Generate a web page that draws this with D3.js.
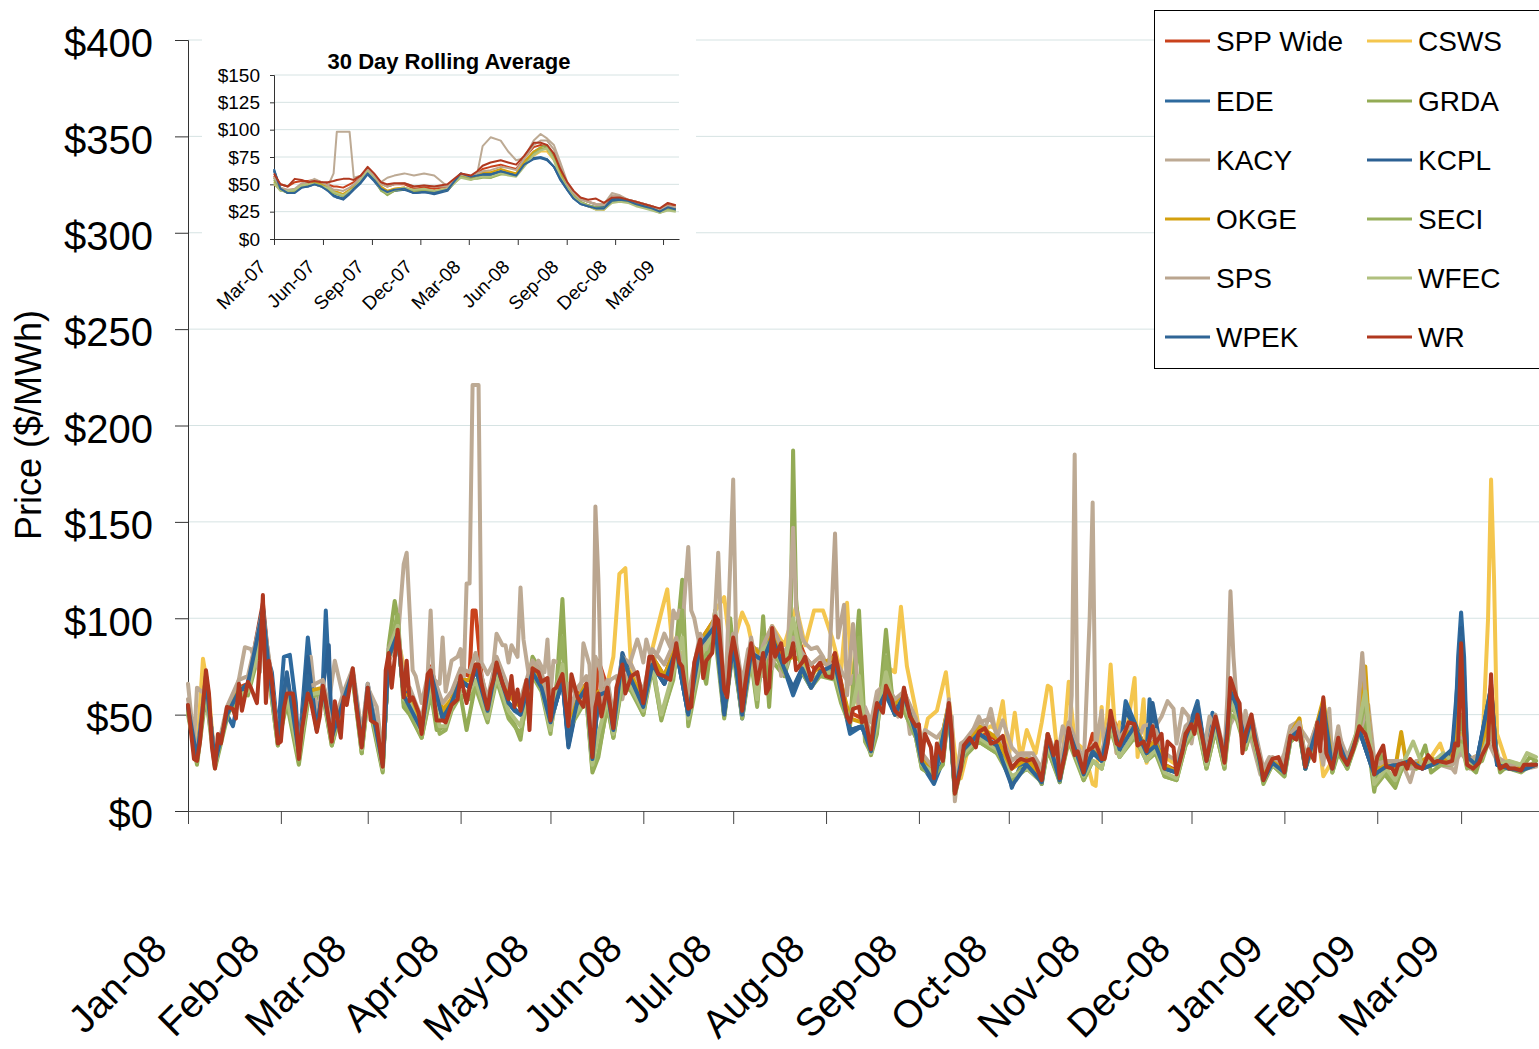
<!DOCTYPE html>
<html>
<head>
<meta charset="utf-8">
<script src="https://cdn.jsdelivr.net/npm/d3@7"></script>
<style>
  body { margin: 0; background: #fff; }
  svg { display: block; font-family: Arial, "Liberation Sans", sans-serif; }
</style>
</head>
<body>
<svg id="chart" width="1539" height="1049"></svg>
<script>
const START = new Date(2008, 0, 1);
const END_DAY = 451;
const INSET_START = new Date(2007, 2, 1);
const INSET_END_DAY = 761;

const SERIES_NAMES = ["SPP Wide", "CSWS", "EDE", "GRDA", "KACY", "KCPL", "OKGE", "SECI", "SPS", "WFEC", "WPEK", "WR"];
const COLORS = ["#C9421C", "#F4C64E", "#2E6A9E", "#93AB55", "#BDAA94", "#2C6193", "#D4A00E", "#98B05C", "#BAA58F", "#B0C07E", "#2F6596", "#B0381F"];

const Y_TICKS = [0, 50, 100, 150, 200, 250, 300, 350, 400];
const MONTH_LABELS = ["Jan-08", "Feb-08", "Mar-08", "Apr-08", "May-08", "Jun-08", "Jul-08", "Aug-08",
  "Sep-08", "Oct-08", "Nov-08", "Dec-08", "Jan-09", "Feb-09", "Mar-09"];
const INSET_Y_TICKS = [0, 25, 50, 75, 100, 125, 150];
const INSET_LABELS = ["Mar-07", "Jun-07", "Sep-07", "Dec-07", "Mar-08", "Jun-08", "Sep-08", "Dec-08", "Mar-09"];

// daily prices: [days since 1 Jan 2008, $/MWh]
const SPP_WIDE = [[0,54],[3,28],[6,70],[9,24],[13,52],[17,64],[20,66],[25,108],[27,76],[30,36],[33,62],[37,30],[40,60],[45,63],[48,38],[52,58],[55,72],[58,36],[60,63],[65,25],[67,80],[70,92],[72,62],[74,62],[78,44],[81,75],[84,58],[86,52],[88,58],[91,72],[94,70],[95,104],[96,104],[98,70],[100,56],[103,76],[107,62],[111,56],[115,73],[118,68],[121,50],[125,70],[127,46],[130,60],[133,66],[135,32],[137,78],[140,64],[142,46],[145,76],[148,70],[152,58],[155,80],[159,70],[163,86],[167,56],[171,88],[176,100],[179,64],[182,88],[185,55],[188,86],[192,80],[195,94],[199,78],[202,96],[206,80],[209,74],[213,72],[216,82],[220,52],[225,48],[228,35],[230,55],[233,64],[236,54],[239,62],[243,46],[245,28],[249,20],[254,55],[256,10],[259,34],[264,42],[270,37],[275,23],[280,27],[285,18],[287,40],[291,20],[294,44],[299,22],[302,40],[305,28],[308,50],[312,38],[316,44],[320,32],[323,37],[326,24],[330,21],[333,40],[337,50],[340,28],[343,48],[346,27],[348,66],[350,57],[353,40],[355,49],[359,18],[362,27],[366,22],[368,38],[371,42],[373,25],[377,45],[379,56],[382,24],[384,37],[387,25],[391,43],[396,21],[400,24],[404,24],[408,26],[412,23],[417,26],[422,27],[425,84],[427,26],[432,29],[435,66],[437,25],[441,23],[445,22],[450,24]];
const CSWS = [[0,52],[3,30],[5,79],[7,60],[9,24],[13,50],[17,62],[20,64],[25,100],[27,74],[30,38],[33,66],[37,32],[40,62],[45,62],[48,40],[52,56],[55,70],[58,38],[60,62],[65,26],[67,78],[70,90],[74,60],[78,44],[81,70],[85,55],[88,62],[91,66],[94,68],[96,74],[98,64],[100,54],[103,74],[107,60],[111,54],[115,76],[118,66],[121,50],[125,68],[127,48],[130,58],[133,64],[135,34],[137,58],[140,66],[142,80],[144,123],[146,126],[148,72],[152,60],[155,84],[158,103],[160,115],[162,80],[165,82],[167,58],[171,90],[174,84],[176,104],[179,111],[181,84],[183,92],[185,103],[187,96],[190,74],[192,86],[195,96],[199,86],[203,106],[206,86],[209,104],[212,104],[215,90],[218,72],[220,108],[222,60],[225,52],[228,40],[231,62],[233,75],[236,72],[238,106],[240,75],[243,52],[245,34],[247,48],[250,52],[253,72],[256,30],[258,17],[261,36],[264,40],[268,44],[270,42],[272,57],[274,28],[276,51],[278,27],[280,42],[283,30],[285,46],[287,65],[288,64],[290,33],[292,28],[294,67],[296,36],[299,32],[302,14],[303,13],[305,54],[306,30],[308,76],[310,30],[311,46],[313,37],[316,69],[317,28],[319,58],[320,25],[323,38],[326,28],[330,24],[333,40],[337,52],[340,28],[343,48],[346,28],[348,66],[350,56],[353,36],[355,48],[359,18],[362,26],[366,24],[368,40],[371,48],[373,24],[377,44],[379,18],[382,26],[384,34],[387,26],[391,42],[393,38],[396,22],[400,24],[404,25],[408,26],[412,24],[415,28],[418,35],[420,26],[423,30],[425,40],[428,25],[432,30],[434,100],[435,172],[436,120],[437,40],[440,26],[445,24],[450,24]];
const EDE = [[0,54],[3,28],[6,68],[9,26],[13,50],[15,44],[17,60],[20,66],[25,104],[26,83],[28,72],[30,40],[32,80],[34,81],[36,56],[37,30],[40,90],[41,76],[43,44],[45,66],[46,104],[48,40],[52,58],[55,72],[58,35],[60,66],[65,24],[67,80],[70,92],[72,60],[74,62],[78,42],[81,72],[85,50],[88,56],[91,68],[94,64],[96,74],[100,52],[103,76],[107,56],[109,52],[111,50],[115,72],[118,64],[121,46],[125,68],[127,33],[130,56],[133,64],[135,27],[137,58],[140,62],[142,42],[145,80],[148,68],[152,54],[155,76],[159,66],[163,84],[167,50],[171,86],[173,74],[176,96],[179,49],[182,86],[185,48],[188,82],[190,62],[192,78],[195,90],[199,74],[202,60],[205,72],[208,64],[211,72],[216,74],[218,62],[221,40],[225,44],[228,30],[230,52],[233,60],[236,50],[239,60],[243,40],[245,24],[249,14],[252,26],[254,52],[256,12],[259,32],[264,40],[268,36],[270,34],[273,28],[275,12],[278,24],[282,25],[285,14],[287,38],[291,15],[294,42],[297,28],[299,18],[302,30],[305,26],[308,48],[311,30],[313,57],[316,46],[320,30],[321,58],[323,34],[326,22],[330,20],[333,38],[337,57],[340,26],[342,51],[346,26],[348,60],[350,54],[353,36],[355,48],[359,16],[362,25],[366,20],[368,38],[371,42],[373,22],[377,44],[379,54],[382,22],[384,36],[387,24],[391,42],[396,19],[400,23],[404,24],[408,26],[412,22],[417,25],[421,26],[423,42],[424,80],[425,103],[426,80],[427,30],[430,24],[435,62],[437,24],[441,22],[445,21],[450,24]];
const GRDA = [[0,52],[3,24],[6,60],[9,22],[13,48],[15,58],[17,62],[20,60],[25,90],[27,70],[30,34],[33,56],[37,24],[40,56],[45,60],[48,34],[52,60],[55,68],[58,30],[60,58],[65,20],[67,86],[69,109],[70,100],[72,54],[74,50],[78,38],[81,62],[83,42],[86,44],[88,54],[91,60],[93,42],[96,66],[98,58],[100,48],[103,70],[107,50],[109,45],[111,37],[113,60],[115,80],[118,72],[121,42],[123,64],[125,110],[127,46],[130,52],[133,58],[135,20],[137,28],[140,56],[142,38],[145,68],[148,64],[152,50],[155,78],[158,47],[162,70],[165,120],[167,46],[171,78],[173,66],[176,104],[179,50],[181,100],[183,70],[185,50],[188,80],[190,56],[192,101],[194,54],[195,78],[199,70],[201,80],[202,187],[203,110],[205,74],[208,66],[211,72],[216,70],[218,58],[221,46],[224,104],[226,40],[228,29],[230,40],[233,94],[235,60],[239,52],[243,38],[245,22],[249,18],[252,24],[254,54],[256,8],[259,28],[264,36],[268,32],[270,30],[273,26],[275,16],[278,22],[282,22],[285,14],[287,32],[291,15],[294,38],[297,26],[299,16],[302,26],[305,22],[308,44],[311,28],[316,40],[320,26],[323,32],[326,18],[330,16],[333,34],[337,46],[340,22],[343,42],[346,22],[348,55],[350,50],[353,32],[355,44],[359,14],[362,24],[366,18],[368,36],[371,40],[373,22],[377,40],[379,52],[382,20],[384,30],[387,22],[391,40],[393,46],[396,10],[398,30],[400,18],[403,12],[406,26],[410,22],[413,34],[415,20],[420,26],[423,28],[425,50],[427,24],[430,20],[435,46],[438,20],[441,24],[445,22],[448,28],[450,26]];
const KACY = [[0,66],[2,35],[3,64],[6,60],[9,25],[13,52],[16,60],[19,85],[21,84],[24,72],[25,100],[27,80],[30,38],[33,62],[37,32],[39,62],[41,80],[43,50],[45,66],[47,56],[49,78],[52,58],[55,72],[58,40],[60,64],[63,54],[65,30],[67,78],[70,88],[72,128],[73,134],[75,73],[76,70],[78,56],[80,70],[81,104],[82,68],[84,66],[85,90],[86,62],[88,78],[90,80],[91,84],[92,66],[93,118],[94,118],[95,221],[97,221],[98,77],[100,71],[102,77],[103,92],[105,86],[106,86],[107,77],[108,86],[110,80],[111,116],[112,89],[114,68],[115,72],[117,78],[119,72],[120,89],[121,60],[122,78],[125,76],[126,60],[127,66],[129,62],[131,57],[132,87],[134,76],[135,48],[136,80],[138,72],[139,62],[141,68],[143,70],[145,58],[147,74],[150,89],[151,84],[152,77],[153,89],[155,77],[157,83],[159,92],[161,85],[162,104],[163,100],[164,104],[165,94],[167,137],[168,104],[169,100],[170,92],[172,77],[173,88],[174,84],[176,104],[177,134],[179,50],[180,84],[182,172],[183,87],[185,66],[187,84],[189,74],[190,84],[192,70],[193,87],[195,74],[197,87],[198,70],[200,76],[202,147],[203,105],[205,90],[206,87],[208,84],[210,85],[212,80],[213,76],[215,76],[217,76],[219,70],[221,66],[222,70],[224,54],[226,54],[228,46],[230,62],[233,66],[235,56],[237,49],[239,64],[241,40],[243,47],[245,36],[246,42],[248,40],[250,38],[253,44],[255,49],[256,5],[258,35],[261,38],[264,49],[266,42],[268,53],[270,38],[272,47],[275,33],[278,28],[281,28],[285,19],[287,33],[290,26],[292,44],[294,34],[295,60],[296,185],[297,30],[299,23],[301,100],[302,160],[303,33],[305,52],[306,28],[308,49],[310,30],[312,44],[314,42],[317,36],[319,44],[321,45],[323,44],[325,49],[327,57],[329,53],[330,35],[332,53],[334,49],[335,35],[337,55],[339,30],[341,49],[344,37],[346,28],[348,45],[349,48],[351,56],[352,35],[353,52],[355,37],[358,19],[361,28],[364,22],[366,30],[368,44],[370,46],[373,39],[375,34],[377,38],[379,24],[381,53],[382,26],[384,44],[386,27],[389,33],[391,40],[394,55],[396,27],[399,23],[402,24],[405,26],[408,15],[410,26],[414,26],[418,24],[422,22],[423,20],[425,38],[428,22],[431,26],[434,36],[437,26],[440,24],[444,21],[450,23]];
const KCPL = [[0,55],[3,27],[6,70],[9,24],[13,52],[17,62],[20,66],[25,106],[27,74],[30,38],[33,70],[37,30],[40,80],[43,42],[45,64],[47,86],[48,38],[52,58],[55,72],[58,34],[60,64],[65,24],[67,80],[70,92],[72,60],[78,42],[81,72],[85,48],[88,56],[91,68],[94,64],[96,74],[100,52],[103,76],[107,56],[111,50],[115,72],[118,64],[121,46],[125,68],[127,34],[130,57],[133,64],[135,27],[137,60],[140,62],[142,42],[145,82],[148,68],[152,54],[155,76],[159,66],[163,84],[167,50],[171,86],[176,96],[179,50],[182,86],[185,49],[188,82],[192,78],[195,90],[199,74],[202,64],[205,74],[208,64],[211,72],[216,76],[218,62],[221,42],[225,44],[228,31],[230,52],[233,62],[236,50],[239,60],[243,40],[245,25],[249,16],[254,54],[256,10],[259,32],[264,40],[270,34],[275,14],[280,24],[285,15],[287,38],[291,16],[294,42],[299,19],[302,31],[305,26],[308,48],[311,32],[313,52],[316,44],[320,30],[322,56],[326,22],[330,20],[333,38],[337,55],[340,26],[343,48],[346,26],[348,62],[350,55],[353,36],[355,48],[359,16],[362,25],[366,20],[368,38],[371,42],[373,22],[377,44],[379,55],[382,22],[384,36],[387,24],[391,42],[396,19],[400,23],[404,24],[408,26],[412,22],[417,25],[422,30],[424,60],[425,95],[426,70],[427,28],[430,24],[435,64],[437,24],[441,22],[445,21],[450,24]];
const OKGE = [[0,54],[3,28],[6,70],[9,24],[13,50],[17,64],[20,64],[25,104],[27,74],[30,36],[33,64],[37,30],[40,62],[45,64],[48,36],[52,58],[55,70],[58,32],[60,62],[65,24],[67,80],[70,92],[72,60],[74,60],[78,42],[81,72],[85,52],[88,58],[91,68],[94,68],[96,76],[100,54],[103,76],[107,60],[111,54],[115,74],[118,66],[121,48],[125,70],[127,44],[130,58],[133,66],[135,30],[137,62],[140,64],[142,44],[145,78],[148,70],[152,58],[155,80],[159,70],[163,86],[167,54],[171,88],[176,100],[179,60],[182,88],[185,52],[188,86],[192,80],[195,92],[199,78],[202,80],[205,78],[208,70],[211,76],[216,80],[218,66],[221,48],[225,46],[228,34],[230,54],[233,64],[236,56],[239,62],[243,44],[245,28],[249,18],[254,56],[256,10],[259,34],[264,44],[270,38],[275,22],[280,27],[285,18],[287,40],[291,18],[294,44],[299,22],[302,34],[305,28],[308,50],[311,36],[316,44],[320,32],[323,36],[326,24],[330,20],[333,40],[337,50],[340,28],[343,48],[346,26],[348,64],[350,56],[353,38],[355,48],[359,18],[362,26],[366,22],[368,40],[371,48],[373,26],[377,46],[379,58],[382,24],[384,38],[387,26],[391,44],[393,75],[394,50],[396,20],[400,24],[403,22],[405,41],[407,22],[410,24],[414,28],[417,26],[422,28],[425,70],[427,26],[432,30],[435,60],[437,26],[441,24],[445,22],[450,24]];
const SECI = [[0,50],[3,25],[6,64],[9,23],[13,50],[17,58],[20,62],[25,96],[27,70],[30,34],[33,58],[37,26],[40,58],[45,62],[48,34],[52,56],[55,70],[58,30],[60,60],[65,21],[67,84],[70,102],[72,56],[74,52],[78,38],[81,60],[84,40],[86,42],[88,52],[91,60],[94,58],[96,64],[100,46],[103,68],[107,48],[111,40],[115,70],[118,62],[121,40],[125,90],[127,42],[130,50],[133,58],[135,22],[137,30],[140,54],[142,38],[145,66],[148,62],[152,50],[155,74],[158,48],[162,68],[165,104],[167,44],[171,76],[176,90],[179,48],[182,84],[185,48],[188,78],[190,54],[192,90],[195,84],[199,72],[202,96],[205,72],[208,64],[211,70],[216,68],[218,56],[221,44],[224,90],[226,36],[228,30],[230,42],[233,80],[236,50],[239,52],[243,38],[245,22],[249,18],[254,52],[256,9],[259,28],[264,36],[270,30],[275,16],[280,22],[285,15],[287,32],[291,16],[294,36],[299,16],[302,26],[305,22],[308,42],[311,28],[316,38],[320,26],[323,30],[326,18],[330,16],[333,34],[337,44],[340,22],[343,42],[346,22],[348,50],[350,48],[353,32],[355,42],[359,15],[362,24],[366,18],[368,36],[371,40],[373,22],[377,40],[379,48],[382,20],[384,32],[387,22],[391,42],[393,58],[396,12],[400,20],[403,14],[406,24],[410,22],[414,24],[417,24],[422,24],[425,36],[427,22],[432,26],[435,40],[438,22],[441,22],[445,20],[450,26]];
const SPS = [[0,58],[3,30],[6,70],[9,26],[13,54],[17,68],[20,70],[25,104],[27,78],[30,40],[33,64],[37,34],[40,64],[45,68],[48,42],[52,62],[55,74],[58,40],[60,66],[65,26],[67,84],[70,96],[72,66],[74,64],[78,48],[81,74],[85,56],[88,62],[91,74],[94,72],[96,82],[98,70],[100,58],[103,80],[107,64],[111,58],[115,78],[118,72],[121,54],[125,74],[127,50],[130,64],[133,70],[135,40],[136,158],[137,120],[138,56],[140,68],[142,50],[145,80],[148,76],[152,62],[155,84],[159,76],[163,90],[167,60],[171,92],[173,84],[176,102],[179,66],[182,92],[185,60],[188,90],[190,72],[192,86],[195,96],[199,82],[202,90],[205,82],[208,76],[211,80],[214,74],[216,144],[217,90],[219,107],[220,60],[222,97],[224,56],[226,50],[228,38],[230,58],[233,66],[236,58],[239,62],[243,48],[245,30],[249,22],[252,30],[254,58],[256,12],[259,36],[264,46],[268,48],[270,40],[273,34],[275,26],[278,30],[282,30],[285,22],[287,40],[291,24],[294,46],[297,34],[299,26],[302,34],[305,30],[308,50],[311,38],[314,44],[317,36],[320,34],[323,42],[326,30],[330,26],[333,44],[337,50],[340,30],[343,50],[346,30],[347,60],[348,114],[349,80],[350,58],[353,42],[355,50],[359,22],[362,28],[366,24],[368,40],[371,46],[373,28],[377,46],[379,40],[382,26],[384,40],[387,28],[390,40],[392,82],[393,60],[394,48],[396,24],[400,26],[404,26],[408,22],[412,24],[417,26],[422,24],[425,30],[427,26],[432,30],[435,40],[437,28],[441,24],[445,24],[450,24]];
const WFEC = [[0,52],[3,26],[6,66],[9,24],[13,52],[15,56],[17,60],[20,62],[25,94],[27,72],[30,36],[33,60],[37,28],[40,60],[45,62],[48,36],[52,58],[55,72],[58,32],[60,62],[65,22],[67,82],[70,96],[72,58],[74,56],[78,40],[81,66],[84,44],[86,44],[88,54],[91,62],[94,62],[96,68],[100,48],[103,70],[107,52],[111,44],[115,72],[118,64],[121,42],[125,76],[127,44],[130,52],[133,60],[135,24],[137,40],[140,58],[142,40],[145,70],[148,64],[152,52],[155,76],[158,50],[162,72],[165,90],[167,48],[171,80],[176,94],[179,52],[182,86],[185,50],[188,80],[190,58],[192,84],[195,88],[199,74],[202,100],[205,76],[208,66],[211,72],[216,72],[218,60],[221,46],[224,70],[226,42],[228,30],[230,46],[233,72],[236,52],[239,56],[243,40],[245,24],[249,20],[254,54],[256,10],[259,30],[264,38],[270,32],[275,18],[280,22],[285,16],[287,34],[291,18],[294,38],[299,18],[302,26],[305,22],[308,44],[311,28],[316,40],[320,26],[323,32],[326,20],[330,17],[333,36],[337,46],[340,24],[343,44],[346,24],[348,58],[350,50],[353,34],[355,44],[359,16],[362,24],[366,20],[368,38],[371,42],[373,24],[377,42],[379,50],[382,22],[384,34],[387,24],[391,46],[393,62],[396,14],[400,22],[403,16],[406,26],[409,36],[412,24],[416,26],[419,30],[422,26],[425,34],[427,24],[432,28],[435,44],[438,24],[441,26],[445,24],[447,30],[450,28]];
const WPEK = [[0,54],[3,27],[6,68],[9,25],[13,50],[17,62],[20,66],[25,104],[27,74],[30,38],[33,72],[37,30],[40,70],[43,42],[45,64],[48,38],[52,58],[55,72],[58,34],[60,64],[65,24],[67,80],[70,92],[72,60],[78,42],[81,72],[85,48],[88,56],[91,68],[94,64],[96,74],[100,52],[103,76],[107,56],[111,50],[115,72],[118,64],[121,46],[125,68],[127,36],[130,57],[133,64],[135,27],[137,60],[140,62],[142,42],[145,80],[148,68],[152,54],[155,76],[159,66],[163,84],[167,50],[171,86],[176,96],[179,50],[182,86],[185,50],[188,82],[192,78],[195,90],[199,74],[202,62],[205,74],[208,64],[211,72],[216,76],[218,62],[221,42],[225,44],[228,31],[230,52],[233,62],[236,50],[239,60],[243,40],[245,25],[249,15],[254,54],[256,10],[259,32],[264,40],[270,34],[275,13],[280,24],[285,15],[287,38],[291,16],[294,42],[299,19],[302,31],[305,26],[308,48],[311,32],[316,44],[320,30],[323,34],[326,22],[330,20],[333,38],[337,54],[340,26],[343,48],[346,26],[348,62],[350,55],[353,36],[355,48],[359,16],[362,25],[366,20],[368,38],[371,42],[373,22],[377,44],[379,55],[382,22],[384,36],[387,24],[391,42],[396,19],[400,23],[404,24],[408,26],[412,22],[417,25],[422,32],[425,90],[426,66],[427,28],[430,24],[435,64],[437,24],[441,22],[445,21],[450,24]];
const WR = [[0,55],[2,27],[3,26],[4,36],[6,73],[7,61],[8,33],[9,22],[10,40],[11,35],[13,54],[15,53],[16,48],[17,66],[18,52],[20,67],[21,64],[23,56],[24,78],[25,112],[26,56],[27,78],[28,68],[30,35],[31,36],[32,53],[33,61],[35,61],[36,49],[37,27],[38,42],[40,61],[41,57],[43,41],[44,49],[45,65],[46,57],[48,36],[49,57],[51,38],[52,59],[53,55],[55,74],[56,57],[58,33],[60,64],[61,47],[63,45],[65,23],[66,73],[67,82],[68,64],[70,94],[71,78],[72,59],[73,78],[74,57],[75,59],[77,51],[78,40],[80,71],[81,73],[83,47],[85,47],[86,46],[88,55],[90,58],[91,70],[93,56],[94,64],[96,76],[97,76],[98,66],[100,53],[101,63],[102,68],[103,77],[105,66],[107,58],[108,70],[109,54],[110,63],[111,52],[113,68],[114,42],[115,74],[117,72],[118,67],[120,69],[121,47],[122,63],[123,64],[125,71],[127,44],[128,71],[130,59],[132,54],[133,66],[135,28],[136,54],[137,61],[138,49],[140,64],[142,43],[143,64],[145,76],[146,61],[148,70],[150,72],[152,56],[154,80],[155,80],[156,75],[157,71],[159,70],[161,68],[163,87],[164,77],[165,75],[167,53],[168,54],[169,77],[171,89],[172,69],[173,78],[175,82],[176,101],[177,99],[178,82],[179,63],[180,59],[181,80],[182,90],[184,73],[185,52],[186,66],[188,87],[189,78],[190,66],[192,82],[193,61],[194,64],[195,95],[196,80],[198,87],[199,77],[201,80],[202,87],[203,73],[205,77],[206,80],[208,68],[209,73],[211,77],[213,70],[215,69],[216,82],[218,66],[220,49],[221,46],[222,53],[224,54],[225,46],[226,49],[228,32],[229,47],[230,56],[232,51],[233,65],[235,58],[236,52],[238,49],[239,64],[241,49],[243,44],[244,45],[245,26],[246,40],[248,33],[249,17],[250,35],[252,26],[253,42],[254,56],[255,40],[256,9],[258,22],[259,34],[261,38],[263,33],[264,41],[266,43],[267,40],[268,35],[270,36],[272,39],[273,31],[275,22],[277,26],[278,27],[280,26],[282,27],[283,24],[285,16],[286,27],[287,40],[289,29],[290,36],[291,17],[293,31],[294,43],[296,29],[297,31],[299,20],[300,31],[302,33],[303,35],[305,27],[306,27],[307,35],[308,52],[310,35],[311,34],[312,38],[314,46],[316,45],[317,34],[319,36],[320,31],[322,44],[323,35],[325,40],[326,22],[327,36],[329,33],[330,19],[332,31],[333,40],[335,45],[336,40],[337,50],[339,35],[340,26],[342,42],[343,49],[345,35],[346,25],[347,40],[348,69],[350,59],[351,56],[352,30],[353,40],[355,50],[356,38],[358,26],[359,16],[361,24],[362,27],[364,28],[366,20],[368,39],[370,37],[371,43],[373,23],[374,32],[376,26],[377,46],[378,31],[379,59],[380,30],[382,22],[384,38],[385,29],[387,24],[389,32],[391,44],[393,40],[395,30],[396,19],[397,28],[399,34],[400,23],[402,22],[403,19],[404,24],[406,25],[407,22],[408,27],[410,23],[412,22],[414,29],[416,25],[417,26],[420,25],[422,26],[423,35],[424,34],[425,87],[426,40],[427,24],[429,22],[431,25],[432,29],[434,35],[435,71],[436,34],[438,22],[440,24],[441,22],[443,22],[445,21],[446,24],[448,24],[450,24]];

// 30 day rolling averages, sampled at INSET_DAYS (days since 1 Mar 2007)
const INSET_DAYS = [0,12,26,39,52,64,76,89,101,112,118,130,142,150,163,176,188,201,213,226,245,263,282,301,326,351,370,382,392,407,426,440,455,470,488,501,513,526,538,551,563,576,590,605,620,635,650,665,680,695,710,725,740,755];
const AVG_SPP_WIDE = [58,50,48,52,53,53,54,52,50,48,48,47,50,52,56,64,58,51,48,50,50,46,47,46,48,58,57,60,64,66,68,66,64,74,84,86,84,76,62,50,42,37,34,32,31,37,38,36,34,32,30,27,31,30];
const AVG_CSWS = [50,45,43,44,48,49,51,49,46,43,43,41,45,48,54,62,56,47,44,46,47,43,44,43,45,57,55,57,59,59,62,61,59,69,76,80,80,72,58,47,39,33,30,28,27,34,36,34,32,30,28,25,28,27];
const AVG_EDE = [64,46,42,43,48,49,51,49,45,40,39,37,42,46,52,60,54,46,43,45,46,42,43,42,45,60,56,57,58,58,61,60,58,68,74,75,73,66,55,46,38,33,31,29,29,36,37,35,32,30,28,25,29,27];
const AVG_GRDA = [56,46,43,44,48,49,51,50,46,42,41,39,44,48,56,64,57,45,40,44,46,44,45,43,45,58,55,56,57,56,60,60,59,68,80,84,86,74,60,48,40,34,31,29,29,35,36,34,32,30,28,25,28,27];
const AVG_KACY = [56,46,44,45,50,52,55,52,48,60,98,98,98,56,58,64,58,52,56,58,60,58,60,58,48,57,56,60,85,93,90,80,72,74,90,96,92,86,70,52,42,36,34,32,32,42,40,36,34,32,30,27,30,29];
const AVG_KCPL = [62,47,43,43,47,48,50,48,45,40,38,36,41,45,51,59,53,45,42,44,45,42,43,41,44,59,56,58,60,60,62,61,58,68,74,74,72,66,54,45,37,32,30,28,29,36,37,34,32,30,28,25,29,27];
const AVG_OKGE = [52,46,44,45,49,50,52,50,47,44,43,41,45,48,55,62,57,48,44,46,47,44,45,44,46,58,56,58,61,61,64,62,60,71,80,83,82,74,60,48,39,33,30,27,27,34,36,34,32,30,28,25,28,27];
const AVG_SECI = [54,45,42,44,48,49,51,49,46,42,41,39,43,47,55,63,56,44,41,44,46,44,45,43,45,57,55,55,56,56,59,59,58,67,78,82,84,73,58,47,39,34,31,28,28,34,35,34,31,29,27,24,27,26];
const AVG_SPS = [57,47,45,46,51,52,54,52,49,45,45,44,47,50,56,64,58,50,48,50,51,48,49,48,48,59,57,60,62,63,66,65,63,73,86,90,90,82,66,50,42,36,34,31,31,40,39,36,34,32,30,27,30,29];
const AVG_WFEC = [51,44,44,45,49,50,50,48,47,43,42,40,44,46,54,62,55,46,42,45,47,45,46,44,46,56,54,56,57,57,60,58,57,66,77,81,83,72,57,46,38,33,30,27,27,33,34,33,30,28,26,24,26,25];
const AVG_WPEK = [63,46,42,42,47,48,50,48,44,39,38,37,42,46,52,60,54,46,43,45,46,42,43,42,45,60,57,58,59,59,62,60,58,68,73,74,73,66,55,45,37,32,30,28,28,35,36,35,32,30,28,25,29,27];
const AVG_WR = [60,50,48,55,54,52,53,52,52,53,54,55,55,54,58,66,60,52,50,51,51,48,49,48,50,60,58,62,67,70,72,70,68,76,88,88,86,78,64,52,44,38,36,37,33,38,38,36,34,32,30,28,33,31];

const DAILY = [SPP_WIDE, CSWS, EDE, GRDA, KACY, KCPL, OKGE, SECI, SPS, WFEC, WPEK, WR];
const AVERAGES = [AVG_SPP_WIDE, AVG_CSWS, AVG_EDE, AVG_GRDA, AVG_KACY, AVG_KCPL, AVG_OKGE, AVG_SECI, AVG_SPS, AVG_WFEC, AVG_WPEK, AVG_WR];

const series = SERIES_NAMES.map((name, i) => ({
  name,
  color: COLORS[i],
  daily: DAILY[i],
  avg: AVERAGES[i].map((v, j) => [INSET_DAYS[j], v]),
}));

const GRID = "#D6E3E3";
const svg = d3.select("#chart");

// ---- main chart ----
const x = d3.scaleTime()
  .domain([START, d3.timeDay.offset(START, END_DAY)])
  .range([188, 1539]);
const y = d3.scaleLinear().domain([0, 400]).range([811, 40]);

svg.append("g")
  .attr("class", "grid")
  .selectAll("line")
  .data(Y_TICKS.filter(d => d > 0))
  .join("line")
    .attr("x1", 188).attr("x2", 1539)
    .attr("y1", d => y(d)).attr("y2", d => y(d))
    .attr("stroke", GRID).attr("stroke-width", 1);

const yAxis = svg.append("g")
  .attr("transform", "translate(188,0)")
  .call(d3.axisLeft(y).tickValues(Y_TICKS).tickSize(13).tickPadding(22)
    .tickFormat(d => "$" + d));
yAxis.select(".domain").attr("stroke", "#333");
yAxis.selectAll(".tick line").attr("stroke", "#333");
yAxis.selectAll("text")
  .attr("font-size", 40)
  .attr("font-family", "Arial, 'Liberation Sans', sans-serif")
  .attr("fill", "#000")
  .attr("dy", "0.42em");

const months = d3.timeMonth.range(START, d3.timeDay.offset(START, END_DAY));
const xAxis = svg.append("g")
  .attr("transform", "translate(0,811)")
  .call(d3.axisBottom(x).tickValues(months).tickSize(13).tickSizeOuter(0).tickFormat(""));
xAxis.select(".domain").attr("stroke", "#555");
xAxis.selectAll(".tick line").attr("stroke", "#444");

// month labels, slanted, ending just left of their tick
svg.append("g")
  .selectAll("text")
  .data(months)
  .join("text")
    .attr("transform", d => `translate(${x(d) - 19},951) rotate(-45)`)
    .attr("text-anchor", "end")
    .attr("font-size", 39)
    .text((d, i) => MONTH_LABELS[i]);

svg.append("text")
  .attr("transform", "translate(41,425) rotate(-90)")
  .attr("text-anchor", "middle")
  .attr("font-size", 36)
  .text("Price ($/MWh)");

const line = d3.line()
  .x(d => x(d3.timeDay.offset(START, d[0])))
  .y(d => y(d[1]));

svg.append("g")
  .attr("class", "lines")
  .selectAll("path")
  .data(series)
  .join("path")
    .attr("d", d => line(d.daily))
    .attr("fill", "none")
    .attr("stroke", d => d.color)
    .attr("stroke-width", 4)
    .attr("stroke-linejoin", "round")
    .attr("stroke-linecap", "round");

// ---- inset: 30 day rolling average ----
const inset = svg.append("g").attr("class", "inset");
inset.append("rect")
  .attr("x", 202).attr("y", 38).attr("width", 494).attr("height", 286)
  .attr("fill", "#fff");

const xi = d3.scaleTime()
  .domain([INSET_START, d3.timeDay.offset(INSET_START, INSET_END_DAY)])
  .range([274, 679]);
const yi = d3.scaleLinear().domain([0, 150]).range([239, 75]);

inset.append("g")
  .selectAll("line")
  .data(INSET_Y_TICKS.filter(d => d > 0))
  .join("line")
    .attr("x1", 274).attr("x2", 679)
    .attr("y1", d => yi(d)).attr("y2", d => yi(d))
    .attr("stroke", GRID);

const yiAxis = inset.append("g")
  .attr("transform", "translate(274,0)")
  .call(d3.axisLeft(yi).tickValues(INSET_Y_TICKS).tickSize(4).tickPadding(10)
    .tickFormat(d => "$" + d));
yiAxis.select(".domain").attr("stroke", "#333");
yiAxis.selectAll(".tick line").attr("stroke", "#333");
yiAxis.selectAll("text")
  .attr("font-size", 19)
  .attr("font-family", "Arial, 'Liberation Sans', sans-serif")
  .attr("fill", "#000");

// quarterly ticks counted from Mar-07 (Mar, Jun, Sep, Dec)
const quarters = d3.timeMonth.range(INSET_START, d3.timeDay.offset(INSET_START, INSET_END_DAY), 3);
const xiAxis = inset.append("g")
  .attr("transform", "translate(0,239)")
  .call(d3.axisBottom(xi).tickValues(quarters).tickSize(6).tickSizeOuter(0).tickFormat(""));
xiAxis.select(".domain").attr("stroke", "#333");
xiAxis.selectAll(".tick line").attr("stroke", "#333");

inset.append("g")
  .selectAll("text")
  .data(quarters)
  .join("text")
    .attr("transform", d => `translate(${xi(d) - 7},268) rotate(-45)`)
    .attr("text-anchor", "end")
    .attr("font-size", 19)
    .text((d, i) => INSET_LABELS[i]);

inset.append("text")
  .attr("x", 449).attr("y", 69)
  .attr("text-anchor", "middle")
  .attr("font-size", 22)
  .attr("font-weight", "bold")
  .text("30 Day Rolling Average");

const lineInset = d3.line()
  .x(d => xi(d3.timeDay.offset(INSET_START, d[0])))
  .y(d => yi(d[1]));

inset.append("g")
  .selectAll("path")
  .data(series)
  .join("path")
    .attr("d", d => lineInset(d.avg))
    .attr("fill", "none")
    .attr("stroke", d => d.color)
    .attr("stroke-width", 2)
    .attr("stroke-linejoin", "round");

// ---- legend ----
const legend = svg.append("g").attr("class", "legend");
legend.append("rect")
  .attr("x", 1154.5).attr("y", 10.5).attr("width", 420).attr("height", 358)
  .attr("fill", "#fff").attr("stroke", "#000").attr("stroke-width", 1);

const ROW_Y = [41, 101, 160, 219, 278, 337];
const items = legend.selectAll("g.item")
  .data(series)
  .join("g")
    .attr("class", "item")
    .attr("transform", (d, i) => `translate(${i % 2 ? 1367 : 1165},${ROW_Y[Math.floor(i / 2)]})`);
items.append("line")
  .attr("x1", 0).attr("x2", 45)
  .attr("stroke", d => d.color).attr("stroke-width", 3);
items.append("text")
  .attr("x", 51).attr("y", 10)
  .attr("font-size", 28)
  .text(d => d.name);
</script>
</body>
</html>
